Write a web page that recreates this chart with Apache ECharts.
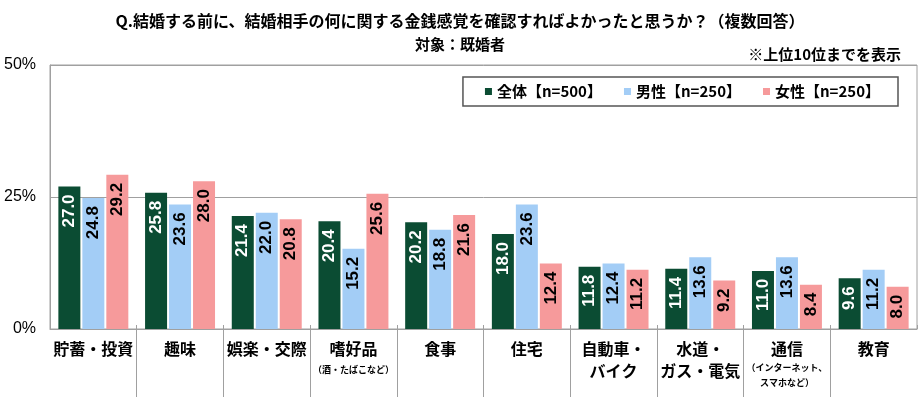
<!DOCTYPE html>
<html>
<head>
<meta charset="utf-8">
<script src="https://cdn.jsdelivr.net/npm/echarts@6/dist/echarts.min.js"></script>
<style>html,body{margin:0;padding:0;background:#fff;}#c{width:920px;height:398px;}</style>
</head>
<body>
<div id="c"></div>
<script>
var categories = ['貯蓄・投資','趣味','娯楽・交際','嗜好品','食事','住宅','自動車・\nバイク','水道・\nガス・電気','通信','教育'];
var subNotes = ['','','','（酒・たばこなど）','','','','','（インターネット、\nスマホなど）',''];
var seriesNames = ['全体【n=500】','男性【n=250】','女性【n=250】'];
var totalValues = [27.0,25.8,21.4,20.4,20.2,18.0,11.8,11.4,11.0,9.6];
var maleValues = [24.8,23.6,22.0,15.2,18.8,23.6,12.4,13.6,13.6,11.2];
var femaleValues = [29.2,28.0,20.8,25.6,21.6,12.4,11.2,9.2,8.4,8.0];
var yTicks = [0,25,50];

var colors = ['#0b4c33','#a3cdf6','#f69a9b'];
var labelColors = ['#ffffff','#000000','#000000'];
var dividerValues = [];
for (var i = 1; i < categories.length; i++) dividerValues.push(i);

var CJK = '"Noto Sans CJK JP", sans-serif';
var ARIAL = '"Liberation Sans", Arial, sans-serif';

function mkSeries(idx, data) {
  return {
    name: seriesNames[idx], type: 'bar', xAxisIndex: 0, data: data,
    barWidth: 22, barGap: '9%',
    itemStyle: { color: colors[idx] },
    label: {
      show: true, position: 'insideTop', rotate: 90, align: 'right', verticalAlign: 'middle',
      distance: 8, fontSize: 17, fontWeight: 'bold', fontFamily: ARIAL, color: labelColors[idx],
      formatter: function (p) { return p.value.toFixed(1); }
    }
  };
}

var chart = echarts.init(document.getElementById('c'), null, { renderer: 'canvas' });
chart.setOption({
  animation: false,
  backgroundColor: '#ffffff',
  title: [
    { text: 'Q.結婚する前に、結婚相手の何に関する金銭感覚を確認すればよかったと思うか？（複数回答）', left: 'center', top: 8,
      textStyle: { fontFamily: CJK, fontSize: 16, fontWeight: 'bold', color: '#000' } },
    { text: '対象：既婚者', left: 'center', top: 32,
      textStyle: { fontFamily: CJK, fontSize: 15, fontWeight: 'bold', color: '#000' } },
    { text: '※上位10位までを表示', right: 14, top: 42,
      textStyle: { fontFamily: CJK, fontSize: 15, fontWeight: 'bold', color: '#000' } }
  ],
  legend: {
    data: seriesNames, right: 22, top: 77,
    icon: 'rect', itemWidth: 7, itemHeight: 7, itemGap: 22,
    padding: [7, 18, 7, 22],
    borderColor: '#555', borderWidth: 1.5,
    textStyle: { fontFamily: CJK, fontSize: 15, fontWeight: 'bold', color: '#000' }
  },
  grid: { left: 50, right: 3, top: 65, bottom: 69, show: true, borderColor: '#a0a0a0', borderWidth: 1, containLabel: false },
  xAxis: [
    {
      type: 'category', data: categories, position: 'bottom',
      axisLine: { show: true, lineStyle: { color: '#a0a0a0', width: 1 } },
      axisTick: { show: true, inside: true, length: 4, lineStyle: { color: '#a0a0a0' } },
      axisLabel: {
        interval: 0, margin: 9, color: '#000',
        formatter: function (value, index) {
          var parts = value.split('\n').map(function (s) { return '{a|' + s + '}'; });
          var sub = subNotes[index];
          if (sub) {
            var sl = sub.split('\n');
            var st = sl.length > 1 ? 'b' : 'c';
            sl.forEach(function (s) { parts.push('{' + st + '|' + s + '}'); });
          }
          return parts.join('\n');
        },
        rich: {
          a: { fontFamily: CJK, fontSize: 16, fontWeight: 'bold', color: '#000', lineHeight: 22 },
          b: { fontFamily: CJK, fontSize: 9, fontWeight: 'bold', color: '#000', lineHeight: 15 },
          c: { fontFamily: CJK, fontSize: 9, fontWeight: 'bold', color: '#000', lineHeight: 20 }
        }
      }
    },
    {
      type: 'value', min: 0, max: categories.length, position: 'bottom',
      axisLine: { show: false }, axisLabel: { show: false }, splitLine: { show: false },
      axisTick: { show: true, customValues: dividerValues, length: 68, lineStyle: { color: '#a0a0a0', width: 1 } }
    }
  ],
  yAxis: {
    type: 'value', min: yTicks[0], max: yTicks[yTicks.length - 1], interval: yTicks[1] - yTicks[0],
    axisLine: { show: true, lineStyle: { color: '#a0a0a0' } },
    axisTick: { show: false },
    splitLine: { show: true, lineStyle: { color: '#a0a0a0', width: 1 } },
    axisLabel: { margin: 14, fontFamily: ARIAL, fontSize: 16, color: '#000', formatter: '{value}%' }
  },
  series: [ mkSeries(0, totalValues), mkSeries(1, maleValues), mkSeries(2, femaleValues) ]
});
</script>
</body>
</html>
